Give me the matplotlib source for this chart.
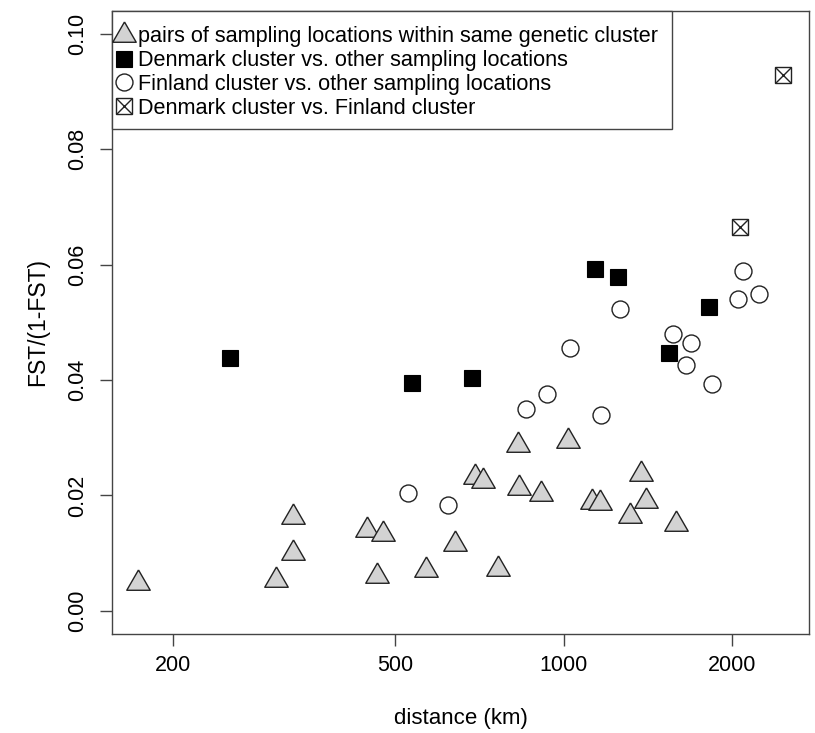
import numpy as np
import matplotlib
matplotlib.use("Agg")
import matplotlib.pyplot as plt
from matplotlib.patches import Rectangle
from matplotlib.legend_handler import HandlerTuple

plt.rcParams['font.family'] = ['Liberation Sans', 'DejaVu Sans']

# pairwise distance (km) and FST/(1-FST)
within_dist = [173.4, 328.6, 328.6, 306.4, 444.5, 474.9, 464.6, 567.8, 639.9, 762.9,
               695.3, 717.2, 829.7, 1019.6, 832.1, 909.9, 1122.7, 1161.8, 1378.0,
               1403.2, 1313.1, 1590.0]
within_fst = [0.0048, 0.0162, 0.0101, 0.0053, 0.0141, 0.0134, 0.0061, 0.0070, 0.0116,
              0.0072, 0.0232, 0.0225, 0.0287, 0.0295, 0.0213, 0.0202, 0.0188, 0.0187,
              0.0238, 0.0190, 0.0164, 0.0151]

den_dist = [253.4, 536.6, 685.3, 1138.1, 1251.3, 1818.8, 1546.6]
den_fst = [0.0439, 0.0395, 0.0403, 0.0592, 0.0579, 0.0527, 0.0447]

fin_dist = [527.0, 620.9, 2092.8, 2055.2, 2241.2, 1261.7, 1572.3, 1689.0, 1654.5,
            1841.4, 1026.7, 932.7, 856.2, 1168.1]
fin_fst = [0.0204, 0.0183, 0.0589, 0.0541, 0.0549, 0.0523, 0.0479, 0.0464, 0.0426,
           0.0393, 0.0456, 0.0375, 0.0349, 0.0339]

den_fin_dist = [2069.7, 2474.4]
den_fin_fst = [0.0665, 0.0929]

labels = ["pairs of sampling locations within same genetic cluster",
          "Denmark cluster vs. other sampling locations",
          "Finland cluster vs. other sampling locations",
          "Denmark cluster vs. Finland cluster"]

# triangle centred on its centroid, like R's pch 24
tri = [(0, 1), (-0.866, -0.5), (0.866, -0.5), (0, 1)]
edge = '#222222'
axcol = '#444444'

fig = plt.figure(figsize=(8.15, 7.33), dpi=100)
ax = fig.add_axes([0.1378, 0.1351, 0.993 - 0.1378, 0.9854 - 0.1351])

h1, = ax.plot(within_dist, within_fst, ls='none', marker=tri, ms=19.5,
              mfc='#d3d3d3', mec=edge, mew=1.0)
h2, = ax.plot(den_dist, den_fst, ls='none', marker='s', ms=11.8,
              mfc='black', mec='black', mew=0.8)
h3, = ax.plot(fin_dist, fin_fst, ls='none', marker='o', ms=12.2,
              mfc='white', mec=edge, mew=1.0)
h4a, = ax.plot(den_fin_dist, den_fin_fst, ls='none', marker='s', ms=12.2,
               mfc='white', mec=edge, mew=1.0)
h4b, = ax.plot(den_fin_dist, den_fin_fst, ls='none', marker='x', ms=12.2,
               mec=edge, mew=1.0)

ax.set_xscale('log')
lo, hi = np.log10(min(within_dist)), np.log10(max(den_fin_dist))
pad = 0.04 * (hi - lo)
ax.set_xlim(10 ** (lo - pad), 10 ** (hi + pad))
ax.set_ylim(-0.004, 0.104)

ax.set_xticks([200, 500, 1000, 2000])
ax.set_xticklabels(['200', '500', '1000', '2000'])
ax.xaxis.set_minor_locator(matplotlib.ticker.NullLocator())
ax.set_yticks([0.0, 0.02, 0.04, 0.06, 0.08, 0.10])
ax.set_yticklabels(['0.00', '0.02', '0.04', '0.06', '0.08', '0.10'], rotation=90, va='center')

for s in ax.spines.values():
    s.set_color(axcol)
    s.set_linewidth(1.0)
ax.tick_params(length=8.4, width=1.0, color=axcol, labelsize=15.5, pad=7)
ax.tick_params(axis='y', pad=9)

ax.set_xlabel('distance (km)', fontsize=16, labelpad=23)
ax.set_ylabel('FST/(1-FST)', fontsize=16.5, labelpad=13)

# legend box like R's legend(): frame drawn separately
box = Rectangle((0, 0.8102), 0.803, 1 - 0.8102, transform=ax.transAxes,
                facecolor='white', edgecolor=axcol, lw=1.0, zorder=4, clip_on=False)
ax.add_patch(box)
leg = ax.legend([h1, h2, h3, (h4a, h4b)], labels, loc='upper left',
                bbox_to_anchor=(0.0027, 0.975), borderaxespad=0, borderpad=0,
                fontsize=15.6, handlelength=0.9, handletextpad=0.22,
                labelspacing=0.13, frameon=False,
                handler_map={tuple: HandlerTuple(ndivide=1)})
leg.set_zorder(5)

fig.savefig('out.png', dpi=100)
